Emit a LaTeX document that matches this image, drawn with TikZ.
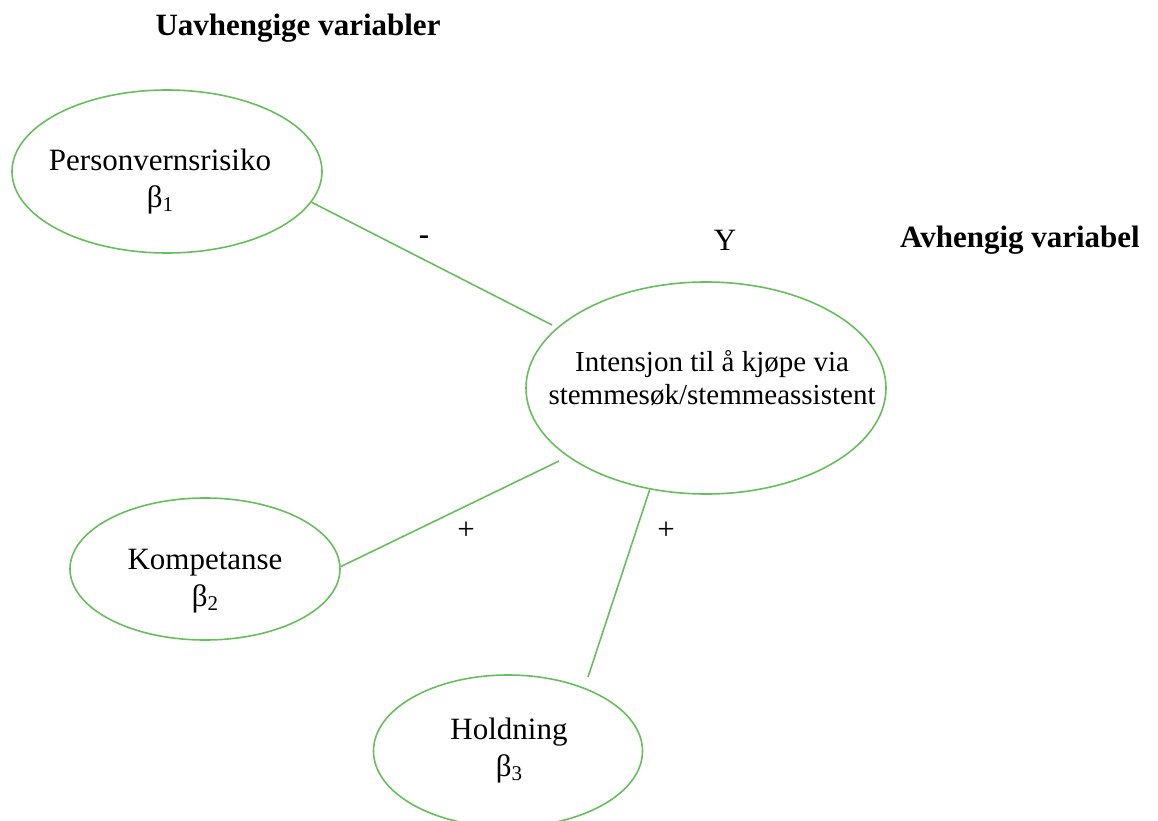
\documentclass[tikz,border=0pt]{standalone}
\usepackage{fontspec}
\setmainfont{Liberation Serif}
\usetikzlibrary{shapes.geometric}
\definecolor{lgreen}{RGB}{104,190,92}
\tikzset{
  oval/.style={draw=lgreen, line width=1.6pt, ellipse, inner sep=0pt},
  link/.style={draw=lgreen, line width=1.6pt},
  txt/.style={align=center, inner sep=0pt, font=\fontsize{31}{37}\selectfont},
  head/.style={inner sep=0pt, font=\fontsize{31}{37}\selectfont\bfseries},
}
\newcommand{\betasub}[1]{β\raisebox{-0.12em}{\fontsize{21}{21}\selectfont #1}}
\begin{document}
\begin{tikzpicture}[x=1pt,y=-1pt]
\useasboundingbox (0,0) rectangle (1158,821);
% ellipses
\node[oval, minimum width=310pt, minimum height=163pt] (p1) at (167,171.5) {};
\node[oval, minimum width=360pt, minimum height=212pt] (c) at (706,388) {};
\node[oval, minimum width=270pt, minimum height=142pt] (k) at (205,569) {};
\node[oval, minimum width=269pt, minimum height=152pt] (h) at (508,751) {};
% texts
\node[txt] (p1t) at (160,182) {Personvernsrisiko\\\betasub{1}};
\node[txt, font=\fontsize{29}{33}\selectfont] (ct) at (712,378) {Intensjon til å kjøpe via\\stemmesøk/stemmeassistent};
\node[txt] (kt) at (205,581) {Kompetanse\\\betasub{2}};
\node[txt] (ht) at (509,751) {Holdning\\\betasub{3}};
% headings
\node[head] (uv) at (298,28) {Uavhengige variabler};
\node[head] (av) at (1020,240) {Avhengig variabel};
\node[txt] (y) at (725,240) {Y};
% connector free ends
\coordinate (e1) at (552,325);
\coordinate (e2) at (559,461);
\coordinate (e3) at (588,677);
\draw[link] (p1.-12.4) -- (e1);
\draw[link] (k.1) -- (e2);
\draw[link] (c.-119) -- (e3);
% signs
\node[txt, font=\fontsize{31}{37}\selectfont\bfseries] (m1) at (424,240) {-};
\node[txt] (pl1) at (466,531) {+};
\node[txt] (pl2) at (666,531) {+};
\end{tikzpicture}
\end{document}
